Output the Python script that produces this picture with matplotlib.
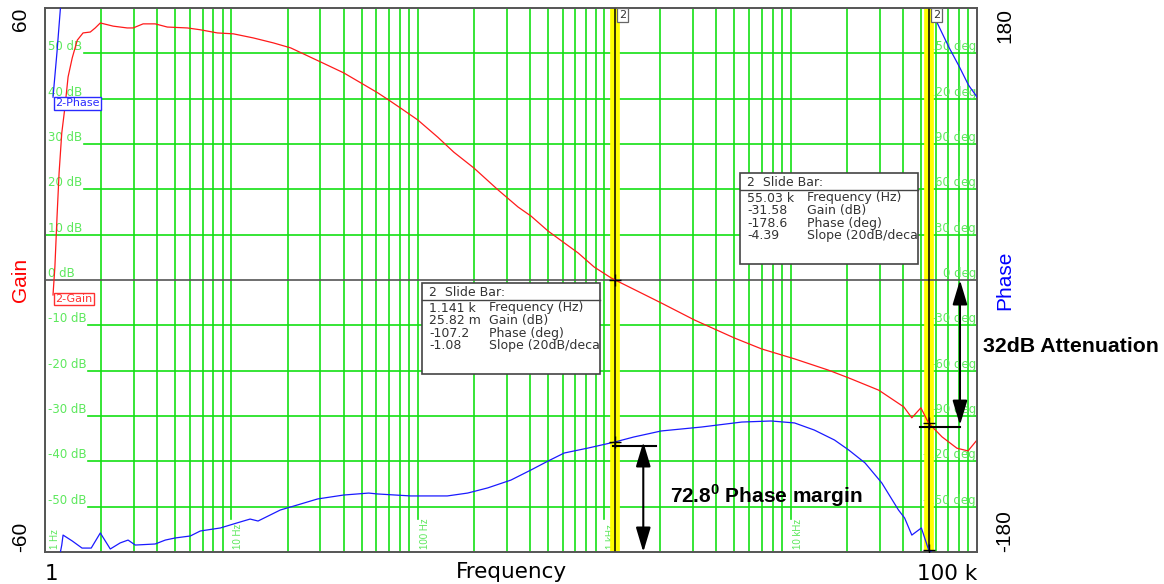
import numpy as np
import matplotlib.pyplot as plt
from matplotlib.patches import Rectangle
from matplotlib.ticker import NullLocator
import matplotlib.transforms as mtrans

plt.rcParams['font.family'] = ['Liberation Sans', 'DejaVu Sans']
plt.rcParams['mathtext.fontset'] = 'custom'
plt.rcParams['mathtext.rm'] = 'Liberation Sans:bold'
plt.rcParams['mathtext.bf'] = 'Liberation Sans:bold'

# ---- data ----
gain_freq = [1.104, 1.13, 1.16, 1.19, 1.23, 1.28, 1.33, 1.40, 1.49, 1.60, 1.75, 1.86, 1.98,
             2.32, 2.76, 2.97, 3.36, 3.90, 4.53, 5.80, 6.81, 8.41, 10.25, 13.1, 16.8, 20.8,
             30.1, 40.0, 49.4, 60.9, 69.8, 81.0, 100, 128, 156, 200, 269, 345, 405, 500, 610,
             725, 883, 1091, 1141, 2024, 3048, 5000, 6985, 10500, 16000, 20500, 29700, 40500,
             44700, 50000, 55030, 64900, 78000, 89500, 100000]
gain_db = [-3.3, 2.9, 13.9, 23.6, 32.4, 38.2, 44.8, 49.0, 52.9, 54.5, 54.7, 55.6, 56.7,
           56.0, 55.6, 55.6, 56.5, 56.5, 55.8, 55.6, 55.2, 54.5, 54.3, 53.4, 52.3, 51.2,
           48.1, 45.7, 43.5, 41.3, 39.7, 37.9, 35.3, 31.5, 28.2, 24.7, 19.9, 16.1, 14.1, 10.8, 8.2,
           5.96, 2.87, 0.44, 0.03, -5.07, -8.82, -12.8, -15.2, -17.4, -19.9, -21.6, -24.3, -28.0,
           -30.4, -28.2, -31.58, -34.6, -37.1, -37.7, -35.3]

phase_freq = [1.104, 1.16, 1.21, 1.21, 1.23, 1.25, 1.40, 1.58, 1.77, 1.98, 2.24, 2.53, 2.79,
              3.05, 3.90, 4.42, 5.0, 6.02, 6.81, 8.72, 11.1, 12.6, 13.9, 18.3, 20.8, 29.0, 40.0,
              54.5, 60.9, 91.6, 144, 185, 237, 316, 405, 500, 610, 820, 1141, 1440, 2024, 3325,
              5470, 7860, 10500, 13400, 17200, 20500, 25100, 30850, 37900, 40900, 44700, 50300,
              55030, 56900, 56900, 59400, 70700, 80500, 90000, 100000]
phase_deg = [121, 151, 180, -180, -175.4, -168.8, -172.7, -177.4, -177.4, -167.4, -178.0, -174.0, -172.1,
             -175.4, -174.7, -172.1, -170.7, -169.4, -166.1, -164.1, -160.2, -158.2, -159.5, -152.2, -150.2, -144.9, -142.3,
             -141.0, -141.6, -142.9, -142.9, -141.0, -137.6, -132.4, -125.7, -119.8, -114.5, -111.2, -107.2, -103.9, -99.9, -97.3,
             -94.0, -93.3, -94.6, -99.3, -105.9, -112.5, -121.1, -134.3, -152.2, -157.5, -168.8, -164.1,
             -178.6, -180, 180, 173.4, 154, 141.0, 129.0, 121.1]

gain_levels = [50, 40, 30, 20, 10, -10, -20, -30, -40, -50]
phase_levels = [150, 120, 90, 60, 30, 0, -30, -60, -90, -120, -150]
decades = [1, 10, 100, 1000, 10000]
decade_labels = ['1 Hz', '10 Hz', '100 Hz', '1 kHz', '10 kHz']

slide_freq = [1141, 55030]
slide_gain = [0.02582, -31.58]
slide_phase = [-107.2, -178.6]
slide_rows = [
    [('1.141 k', 'Frequency (Hz)'), ('25.82 m', 'Gain (dB)'), ('-107.2', 'Phase (deg)'), ('-1.08', 'Slope (20dB/decade)')],
    [('55.03 k', 'Frequency (Hz)'), ('-31.58', 'Gain (dB)'), ('-178.6', 'Phase (deg)'), ('-4.39', 'Slope (20dB/decade)')],
]
phase_margin = 72.8
attenuation = 32

GREEN = '#14e014'
LBL_GREEN = '#5ce85c'
WIDE = 'DejaVu Sans'

# pixel -> axes fraction helpers (axes spans x 45..977, y 8..552)
def ax_x(px):
    return (px - 45) / 932.0

def ax_y(py):
    return (552 - py) / 544.0

def px_freq(px):
    return 10 ** ((px - 45) / 186.0)

fig = plt.figure(figsize=(11.64, 5.84), dpi=100)
ax = fig.add_axes([45 / 1164, 32 / 584, 932 / 1164, 544 / 584])
ax.set_xscale('log')
ax.set_xlim(1, 1e5)
ax.set_ylim(-60, 60)
ax2 = ax.twinx()
ax2.set_ylim(-180, 180)

# ---- green grid ----
for d in decades:
    for m in range(1, 10):
        if m == 1 and d > 1:
            ax.axvline(d * m, ymin=0.06, color=GREEN, lw=1.2, zorder=1)
        else:
            ax.axvline(d * m, color=GREEN, lw=1.2, zorder=1)
for d, lbl in zip(decades, decade_labels):
    off = 7 if d == 1 else 5
    ax.annotate(lbl, xy=(d, 0), xycoords=('data', 'axes fraction'), xytext=(off, 2),
                textcoords='offset points', rotation=90, ha='center', va='bottom',
                fontsize=7, color=LBL_GREEN, zorder=1.5)

trans_l = mtrans.blended_transform_factory(ax.transAxes, ax.transData)
for lv in gain_levels:
    start = 0 if lv == 10 else (0.046 if lv < 0 else 0.042)
    ax.axhline(lv, xmin=start, color=GREEN, lw=1.2, zorder=1)
    ax.text(0.003, lv, '{} dB'.format(lv), transform=trans_l, ha='left', va='bottom',
            fontsize=8.5, family=WIDE, color=LBL_GREEN, zorder=1.5)
ax.text(0.003, 0, '0 dB', transform=trans_l, ha='left', va='bottom', fontsize=8.5,
        family=WIDE, color=LBL_GREEN, zorder=1.5)
ax.axhline(0, color='#555555', lw=1.2, zorder=2.5)

for lv in phase_levels:
    ax.text(0.999, lv / 3.0, '{} deg'.format(lv), transform=trans_l, ha='right', va='bottom',
            fontsize=8.5, family=WIDE, color=LBL_GREEN, zorder=1.5)

# ---- slide bars ----
for f in slide_freq:
    ax.axvline(f, color='#ffff00', lw=7, zorder=2)
    ax.axvline(f, color='black', lw=1.1, zorder=3)
    ax2.annotate('2', xy=(f, 1), xycoords=('data', 'axes fraction'), xytext=(3, -1.5),
                 textcoords='offset points', ha='left', va='top', fontsize=8, family=WIDE,
                 color='#333333', zorder=9,
                 bbox=dict(boxstyle='square,pad=0.2', fc='white', ec='#666666', lw=0.9))

# ---- curves ----
ax.plot(gain_freq, gain_db, color='#ff1a1a', lw=0.9, zorder=4)

pf = np.array(phase_freq, dtype=float)
pd_ = np.array(phase_deg, dtype=float)
jumps = np.where(np.abs(np.diff(pd_)) > 180)[0] + 1
pf = np.insert(pf, jumps, np.nan)
pd_ = np.insert(pd_, jumps, np.nan)
ax2.plot(pf, pd_, color='#1a1aff', lw=0.9, zorder=4)

ax.plot(slide_freq, slide_gain, '+', color='black', ms=9, mew=1, zorder=5)
ax2.plot(slide_freq, slide_phase, '+', color='black', ms=9, mew=1, zorder=5)

# ---- slide bar read-out boxes ----
box_pos = [(422, 283), (740, 173)]
for (bx, by), rows in zip(box_pos, slide_rows):
    rect = Rectangle((ax_x(bx), ax_y(by + 91)), ax_x(bx + 178) - ax_x(bx), ax_y(by) - ax_y(by + 91),
                     transform=ax2.transAxes, fc='white', ec='#444444', lw=1.2, zorder=6)
    ax2.add_patch(rect)
    ax2.plot([ax_x(bx), ax_x(bx + 178)], [ax_y(by + 17)] * 2, color='#444444', lw=1.0,
             transform=ax2.transAxes, zorder=7)
    ax2.text(ax_x(bx + 7), ax_y(by + 9), '2  Slide Bar:', transform=ax2.transAxes, ha='left',
             va='center', fontsize=9, family=WIDE, color='#333333', zorder=7)
    for i, (val, name) in enumerate(rows):
        yy = ax_y(by + 25 + 12.6 * i)
        ax2.text(ax_x(bx + 7), yy, val, transform=ax2.transAxes, ha='left', va='center',
                 fontsize=9, family=WIDE, color='#333333', zorder=7)
        t = ax2.text(ax_x(bx + 67), yy, name, transform=ax2.transAxes, ha='left', va='center',
                     fontsize=9, family=WIDE, color='#333333', zorder=7, clip_on=True)
        t.set_clip_path(rect)

# ---- legend tags ----
ax2.text(ax_x(55), ax_y(103.5), '2-Phase', transform=ax2.transAxes, ha='left', va='center',
         fontsize=8, family=WIDE, color='#2a2aff', zorder=8,
         bbox=dict(boxstyle='square,pad=0.12', fc='white', ec='#2a2aff', lw=1))
ax2.text(ax_x(55), ax_y(299), '2-Gain', transform=ax2.transAxes, ha='left', va='center',
         fontsize=8, family=WIDE, color='#ff3030', zorder=8,
         bbox=dict(boxstyle='square,pad=0.12', fc='white', ec='#ff3030', lw=1))

# ---- annotations ----
pm_level = -(180 - phase_margin)
ax2.annotate('', xy=(px_freq(642), -180), xytext=(px_freq(642), pm_level),
             arrowprops=dict(arrowstyle='<|-|>,head_length=1.5,head_width=0.45', color='black',
                             lw=1.5, shrinkA=0, shrinkB=0), zorder=8)
ax2.plot([px_freq(612), px_freq(655)], [pm_level - 2.5] * 2, color='black', lw=1.5, zorder=8)
ax2.text(ax_x(670), ax_y(496), r'{}$^{{\mathbf{{0}}}}$ Phase margin'.format(phase_margin),
         transform=ax2.transAxes, ha='left', va='center', fontsize=15, fontweight='bold',
         color='black', zorder=8)

ax.annotate('', xy=(px_freq(958), -attenuation), xytext=(px_freq(958), 0),
            arrowprops=dict(arrowstyle='<|-|>,head_length=1.5,head_width=0.45', color='black',
                            lw=1.5, shrinkA=0, shrinkB=0), zorder=8)
ax.plot([px_freq(918), px_freq(958)], [-attenuation - 0.4] * 2, color='black', lw=1.5, zorder=8)
ax2.text(ax_x(983), ax_y(347), '{}dB Attenuation'.format(attenuation), transform=ax2.transAxes,
         ha='left', va='center', fontsize=15.3, fontweight='bold', color='black', clip_on=False)

# ---- outer axes ----
for a in (ax, ax2):
    for s in a.spines.values():
        s.set_color('#555555')
        s.set_linewidth(1.2)
ax.xaxis.set_minor_locator(NullLocator())
ax.set_xticks([1, 1e5], ['1', '100 k'])
ax.tick_params(axis='x', length=0, pad=8.5, labelsize=15.5, labelfontfamily=WIDE)
xl = ax.get_xticklabels()
xl[0].set_ha('left')
xl[1].set_ha('right')
ax.set_xlabel('Frequency', fontsize=15.5, family=WIDE)
ax.xaxis.set_label_coords(0.5, -0.019)
ax.xaxis.label.set_va('top')

ax.set_yticks([-60, 60], ['-60', '60'])
ax.tick_params(axis='y', length=0, pad=11, labelsize=15, labelrotation=90)
yl = ax.get_yticklabels()
yl[0].set_va('bottom')
yl[1].set_va('top')
ax.set_ylabel('Gain', color='red', fontsize=15)
ax.yaxis.set_label_coords(-0.0166, 0.5)

ax2.set_yticks([-180, 180], ['-180', '180'])
ax2.tick_params(axis='y', length=0, pad=13, labelsize=15, labelrotation=90)
yl2 = ax2.get_yticklabels()
yl2[0].set_va('bottom')
yl2[1].set_va('top')
ax2.set_ylabel('Phase', color='blue', fontsize=15)
ax2.yaxis.set_label_coords(1.0195, 0.5)

fig.savefig('out.png', dpi=100)
